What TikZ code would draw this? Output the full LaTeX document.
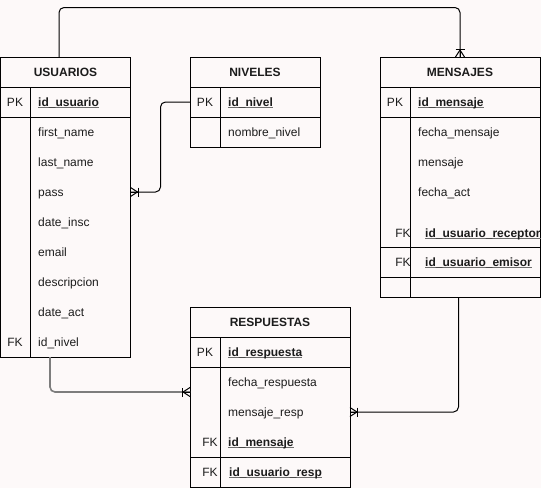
\documentclass[tikz,border=0pt]{standalone}
\usepackage{fontspec}
\setmainfont{Liberation Sans}
\definecolor{paper}{RGB}{253,249,249}
\definecolor{ink}{RGB}{28,28,28}
\definecolor{ulgray}{RGB}{110,110,110}
\definecolor{wire}{RGB}{125,125,125}
% bold key field with a grey underline
\newcommand\keyfield[1]{\setbox0\hbox{\bfseries #1}\rlap{\color{ulgray}\rule[-2pt]{\wd0}{0.9pt}}\box0}
\tikzset{
  tbl/.style={draw, line width=1pt, anchor=north west, inner sep=0pt, outer sep=0pt},
  txt/.style={font=\fontsize{12}{14}\selectfont, text=ink, inner sep=0pt,
              text height=8.4pt, text depth=0pt},
  fld/.style={txt, anchor=west},
  keylab/.style={txt, anchor=center},
  hdr/.style={txt, anchor=center, font=\fontsize{12}{14}\selectfont\bfseries},
  conn/.style={draw=black, line width=1pt, rounded corners=5pt},
  pics/crowfoot/.style={code={
    \draw[line width=1pt] (0,-4.5) -- (7,0) -- (0,4.5);
    \draw[line width=1pt] (0,0) -- (7,0);
    \draw[line width=1pt] (7.5,-4.5) -- (7.5,4.5);
  }}
}
\begin{document}
\begin{tikzpicture}[x=1pt,y=-1pt]
\fill[paper] (0,0) rectangle (541,488);
\useasboundingbox (0,0) rectangle (541,488);

% ---------- USUARIOS ----------
\node[tbl, minimum width=130pt, minimum height=300pt] (usu) at (0.5,57) {};
\draw (0.5,87) -- (130.5,87);
\draw (0.5,117) -- (130.5,117);
\draw (30,87) -- (30,357);
\node[hdr] (usuh) at (65.5,72) {USUARIOS};
\node[keylab] (usupk) at (15,102) {PK};
\node[fld] (usuid) at (38,102) {\keyfield{id\_usuario}};
\node[fld] (usu1) at (38,132) {first\_name};
\node[fld] (usu2) at (38,162) {last\_name};
\node[fld] (usu3) at (38,192) {pass};
\node[fld] (usu4) at (38,222) {date\_insc};
\node[fld] (usu5) at (38,252) {email};
\node[fld] (usu6) at (38,282) {descripcion};
\node[fld] (usu7) at (38,312) {date\_act};
\node[keylab] (usufk) at (15,342) {FK};
\node[fld] (usu8) at (38,342) {id\_nivel};

% ---------- NIVELES ----------
\node[tbl, minimum width=130pt, minimum height=90pt] (niv) at (190,57) {};
\draw (190,87) -- (320,87);
\draw (190,117) -- (320,117);
\draw (220,87) -- (220,147);
\node[hdr] (nivh) at (255,72) {NIVELES};
\node[keylab] (nivpk) at (205,102) {PK};
\node[fld] (nivid) at (228,102) {\keyfield{id\_nivel}};
\node[fld] (niv1) at (228,132) {nombre\_nivel};

% ---------- MENSAJES ----------
\node[tbl, minimum width=160pt, minimum height=240pt] (men) at (380,57) {};
\draw (380,87) -- (540,87);
\draw (380,117) -- (540,117);
\draw (380,247) -- (540,247);
\draw (380,277) -- (540,277);
\draw (410,87) -- (410,297);
\node[hdr] (menh) at (460,72) {MENSAJES};
\node[keylab] (menpk) at (395,102) {PK};
\node[fld] (menid) at (418,102) {\keyfield{id\_mensaje}};
\node[fld] (men1) at (418,132) {fecha\_mensaje};
\node[fld] (men2) at (418,162) {mensaje};
\node[fld] (men3) at (418,192) {fecha\_act};
\node[keylab] (menfk1) at (403,233) {FK};
\node[fld] (men4) at (425,233) {\keyfield{id\_usuario\_receptor}};
\node[keylab] (menfk2) at (403,262) {FK};
\node[fld] (men5) at (425,262) {\keyfield{id\_usuario\_emisor}};

% ---------- RESPUESTAS ----------
\node[tbl, minimum width=160pt, minimum height=180pt] (res) at (190,307) {};
\draw (190,337) -- (350,337);
\draw (190,367) -- (350,367);
\draw (190,457) -- (350,457);
\draw (220,337) -- (220,487);
\node[hdr] (resh) at (270,322) {RESPUESTAS};
\node[keylab] (respk) at (205,352) {PK};
\node[fld] (resid) at (228,352) {\keyfield{id\_respuesta}};
\node[fld] (res1) at (228,382) {fecha\_respuesta};
\node[fld] (res2) at (228,412) {mensaje\_resp};
\node[keylab] (resfk1) at (210,442) {FK};
\node[fld] (res3) at (228,442) {\keyfield{id\_mensaje}};
\node[keylab] (resfk2) at (210,472) {FK};
\node[fld] (res4) at (229,472) {\keyfield{id\_usuario\_resp}};

% ---------- connector end points ----------
\coordinate (usutop) at ([xshift=58.5pt]usu.north west);
\coordinate (usubot) at ([xshift=49.5pt]usu.south west);
\coordinate (usupass) at (usu.east |- usu3);
\coordinate (mentop) at ([xshift=80pt]men.north west);
\coordinate (menbot) at ([xshift=78.5pt]men.south west);
\coordinate (nivpkl) at (niv.west |- nivid);
\coordinate (resleft) at ([yshift=-85pt]res.north west);
\coordinate (resright) at ([yshift=-105pt]res.north east);

% ---------- relationships ----------
\draw[conn] (usutop) -- ++(0,-49.5) -| (mentop);
\draw[conn] (nivpkl) -- ++(-29.5,0) |- (usupass);
\draw[conn, draw=wire, line width=1.6pt] (usubot) |- (resleft);
\draw[conn] (menbot) |- (resright);

\pic[rotate=90] at (mentop) {crowfoot};
\pic at (usupass) {crowfoot};
\pic[rotate=180] at (resleft) {crowfoot};
\pic at (resright) {crowfoot};
\end{tikzpicture}
\end{document}
